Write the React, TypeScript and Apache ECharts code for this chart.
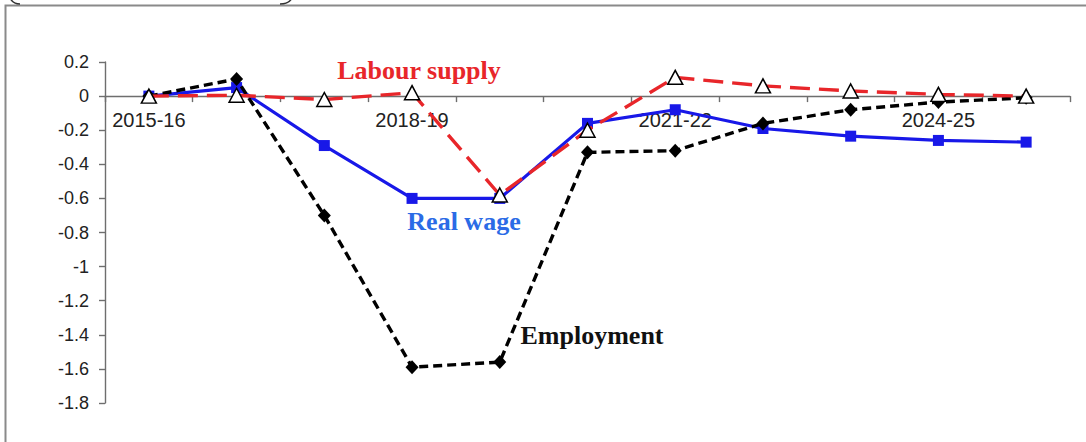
import React, { useEffect, useRef } from "react";
import * as echarts from "echarts";

const categories = [
  "2015-16", "2016-17", "2017-18", "2018-19", "2019-20", "2020-21",
  "2021-22", "2022-23", "2023-24", "2024-25", "2025-26",
];
const realWage = [0, 0.05, -0.29, -0.6, -0.6, -0.16, -0.08, -0.19, -0.235, -0.26, -0.27];
const employment = [0, 0.1, -0.7, -1.59, -1.56, -0.33, -0.32, -0.16, -0.08, -0.035, -0.01];
const labourSupply = [0, 0.005, -0.02, 0.02, -0.58, -0.2, 0.11, 0.06, 0.03, 0.01, 0.0];

export default function App() {
  const ref = useRef<HTMLDivElement>(null);
  useEffect(() => {
    if (!ref.current) return;
    const chart = echarts.init(ref.current, null, { renderer: "svg" });
    const axisColor = "#6e6e6e";
    chart.setOption({
      animation: false,
      backgroundColor: "#fff",
      grid: { left: 105, right: 16, top: 62, bottom: 39, containLabel: false },
      xAxis: {
        type: "category",
        data: categories,
        boundaryGap: true,
        axisLine: { onZero: true, lineStyle: { color: axisColor, width: 1.4 } },
        axisTick: { show: true, interval: 0, length: 6, inside: false, lineStyle: { color: axisColor, width: 1.4 } },
        axisLabel: {
          fontFamily: "Liberation Sans",
          fontSize: 20,
          color: "#222",
          interval: 2,
          margin: -293,
        },
        splitLine: { show: false },
      },
      yAxis: {
        type: "value",
        min: -1.8,
        max: 0.2,
        interval: 0.2,
        axisLine: { show: true, lineStyle: { color: axisColor, width: 1.4 } },
        axisTick: { show: true, length: 6, lineStyle: { color: axisColor, width: 1.4 } },
        axisLabel: {
          fontFamily: "Liberation Sans",
          fontSize: 18,
          color: "#222",
          margin: 16,
          formatter: (v: number) => String(Number(v.toFixed(1))),
        },
        splitLine: { show: false },
      },
      series: [
        {
          name: "Real wage",
          type: "line",
          data: realWage,
          symbol: "rect",
          symbolSize: 11,
          lineStyle: { color: "#1818E8", width: 3.2 },
          itemStyle: { color: "#1818E8" },
          z: 2,
        },
        {
          name: "Employment",
          type: "line",
          data: employment,
          symbol: "diamond",
          symbolSize: [13, 14],
          lineStyle: { color: "#000", width: 3.4, type: [9, 5] },
          itemStyle: { color: "#000" },
          z: 3,
        },
        {
          name: "Labour supply",
          type: "line",
          data: labourSupply,
          symbol: "triangle",
          symbolSize: [15, 14],
          lineStyle: { color: "#E8262A", width: 3.4, type: [20, 9] },
          itemStyle: { color: "#fff", borderColor: "#000", borderWidth: 1.5 },
          z: 4,
        },
      ],
      graphic: [
        {
          type: "rect",
          shape: { x: 5.5, y: 5.5, width: 1200, height: 600 },
          style: { fill: "none", stroke: "#8a8a8a", lineWidth: 2 },
          silent: true,
        },
        {
          type: "bezierCurve",
          shape: { x1: 10, y1: -2, x2: 20, y2: 4, cpx1: 13, cpy1: 4 },
          style: { stroke: "#333", lineWidth: 1.5, fill: "none" },
        },
        {
          type: "bezierCurve",
          shape: { x1: 280, y1: 4, x2: 292, y2: -2, cpx1: 289, cpy1: 4 },
          style: { stroke: "#333", lineWidth: 1.5, fill: "none" },
        },
        {
          type: "text",
          x: 419,
          y: 70,
          style: {
            text: "Labour supply",
            font: "bold 26px 'Liberation Serif'",
            fill: "#E8262A",
            align: "center",
            verticalAlign: "middle",
          },
        },
        {
          type: "text",
          x: 464,
          y: 221,
          style: {
            text: "Real wage",
            font: "bold 26px 'Liberation Serif'",
            fill: "#2B6BE6",
            align: "center",
            verticalAlign: "middle",
          },
        },
        {
          type: "text",
          x: 592,
          y: 335,
          style: {
            text: "Employment",
            font: "bold 26px 'Liberation Serif'",
            fill: "#111",
            align: "center",
            verticalAlign: "middle",
          },
        },
      ],
    });
    return () => chart.dispose();
  }, []);
  return (
    <div
      ref={ref}
      style={{ position: "absolute", left: 0, top: 0, width: 1086, height: 442 }}
    />
  );
}
